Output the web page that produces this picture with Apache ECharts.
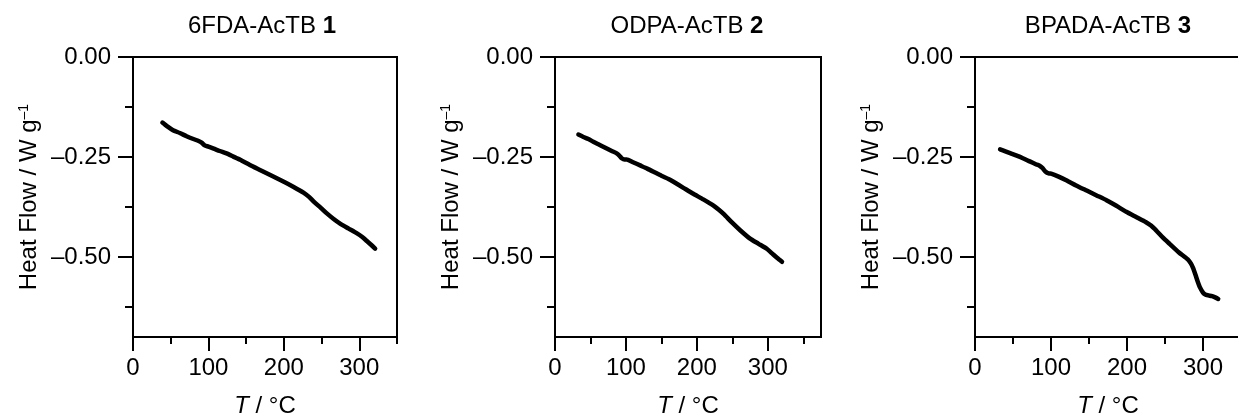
<!DOCTYPE html>
<html>
<head>
<meta charset="utf-8">
<script src="https://cdn.jsdelivr.net/npm/echarts@6/dist/echarts.min.js"></script>
<style>
html,body{margin:0;padding:0;background:#fff;}
#chart{width:1238px;height:419px;}
</style>
</head>
<body>
<div id="chart"></div>
<script>
// ---- data ----
const titles = ['6FDA-AcTB ', 'ODPA-AcTB ', 'BPADA-AcTB '];
const titleNumbers = ['1', '2', '3'];
const xMaxes = [350, 375, 350];
const yMin = -0.7, yMax = 0;
const xMajorTicks = [0, 100, 200, 300];
const xMinorTicks = [50, 150, 250, 350];
const yMajorTicks = [0, -0.25, -0.5];
const yMinorTicks = [-0.125, -0.375, -0.625];

const T1 = [39, 45, 53, 62, 71, 80, 87, 91, 95, 100, 107, 115, 124, 133, 142, 155, 169, 184, 200, 213, 226, 233, 240, 249, 257, 266, 275, 286, 297, 304, 310, 316, 321];
const V1 = [-0.164, -0.173, -0.183, -0.190, -0.198, -0.205, -0.210, -0.214, -0.221, -0.224, -0.229, -0.235, -0.241, -0.249, -0.257, -0.270, -0.283, -0.297, -0.312, -0.325, -0.339, -0.349, -0.362, -0.377, -0.391, -0.405, -0.417, -0.429, -0.441, -0.450, -0.460, -0.470, -0.479];

const T2 = [33, 40, 47, 54, 63, 73, 80, 87, 91, 94, 98, 101, 110, 120, 130, 139, 150, 160, 167, 181, 195, 209, 223, 231, 238, 249, 261, 275, 287, 299, 306, 313, 320];
const V2 = [-0.194, -0.200, -0.205, -0.212, -0.220, -0.229, -0.235, -0.241, -0.247, -0.253, -0.256, -0.256, -0.263, -0.271, -0.279, -0.287, -0.297, -0.305, -0.312, -0.327, -0.342, -0.356, -0.371, -0.382, -0.393, -0.413, -0.433, -0.454, -0.467, -0.480, -0.491, -0.502, -0.512];

const T3 = [33, 40, 47, 54, 63, 72, 80, 85, 89, 93, 97, 101, 110, 120, 133, 147, 160, 173, 186, 199, 212, 225, 232, 239, 247, 256, 268, 280, 284, 287, 290, 293, 296, 300, 303, 307, 312, 316, 320];
const V3 = [-0.231, -0.236, -0.241, -0.246, -0.253, -0.261, -0.268, -0.272, -0.278, -0.287, -0.291, -0.292, -0.299, -0.308, -0.321, -0.334, -0.346, -0.358, -0.372, -0.387, -0.400, -0.413, -0.422, -0.435, -0.451, -0.467, -0.488, -0.506, -0.516, -0.528, -0.544, -0.561, -0.576, -0.589, -0.594, -0.596, -0.598, -0.601, -0.605];

const Ts = [T1, T2, T3];
const Vs = [V1, V2, V3];

// ---- layout ----
const FONT = "'Liberation Sans', Arial, Helvetica, sans-serif";
const grids = [
  {left: 133, top: 57, width: 264, height: 280},
  {left: 555, top: 57, width: 266, height: 280},
  {left: 975, top: 57, width: 266, height: 280}
];
const titleCenters = [257, 682, 1103];

const option = {
  animation: false,
  backgroundColor: '#fff',
  textStyle: {fontFamily: FONT, color: '#000'},
  title: [], grid: [], xAxis: [], yAxis: [], series: []
};

const fmtY = v => (v < 0 ? '\u2013' : '') + Math.abs(v).toFixed(2);

for (let i = 0; i < 3; i++) {
  const g = grids[i];
  option.grid.push({
    left: g.left, top: g.top, width: g.width, height: g.height,
    containLabel: false, outerBoundsMode: 'none',
    show: true, borderColor: '#000', borderWidth: 2, backgroundColor: 'transparent'
  });
  option.title.push({
    text: titles[i] + '{b|' + titleNumbers[i] + '}',
    left: titleCenters[i],
    textAlign: 'center',
    top: 9,
    textStyle: {
      fontFamily: FONT, fontSize: 24, fontWeight: 'normal', color: '#000',
      rich: {b: {fontFamily: FONT, fontSize: 24, fontWeight: 'bold', color: '#000'}}
    }
  });
  // major x axis
  option.xAxis.push({
    type: 'value', gridIndex: i, min: 0, max: xMaxes[i], position: 'bottom',
    name: '{i|T} / °C', nameLocation: 'middle', nameGap: 57,
    nameTextStyle: {fontFamily: FONT, fontSize: 24, color: '#000',
      rich: {i: {fontFamily: FONT, fontSize: 24, fontStyle: 'italic', color: '#000'}}},
    axisLine: {show: true, onZero: false, lineStyle: {color: '#000', width: 2}},
    axisTick: {show: true, length: 14, lineStyle: {color: '#000', width: 2}, customValues: xMajorTicks},
    axisLabel: {show: true, margin: 19, fontFamily: FONT, fontSize: 24, color: '#000', customValues: xMajorTicks},
    splitLine: {show: false}
  });
  // minor x axis
  option.xAxis.push({
    type: 'value', gridIndex: i, min: 0, max: xMaxes[i], position: 'bottom',
    axisLine: {show: false, onZero: false},
    axisTick: {show: true, length: 7, lineStyle: {color: '#000', width: 2}, customValues: xMinorTicks},
    axisLabel: {show: false},
    splitLine: {show: false}
  });
  // major y axis
  option.yAxis.push({
    type: 'value', gridIndex: i, min: yMin, max: yMax, position: 'left',
    name: '{a|Heat Flow / W g}{s|\u20131}', nameLocation: 'middle', nameGap: 92,
    nameTextStyle: {fontFamily: FONT, fontSize: 24, color: '#000',
      rich: {
        a: {fontFamily: FONT, fontSize: 24, color: '#000'},
        s: {fontFamily: FONT, fontSize: 14, color: '#000', verticalAlign: 'top', padding: [0, 0, 8, 0]}
      }},
    axisLine: {show: true, onZero: false, lineStyle: {color: '#000', width: 2}},
    axisTick: {show: true, length: 15, lineStyle: {color: '#000', width: 2}, customValues: yMajorTicks},
    axisLabel: {show: true, margin: 22, fontFamily: FONT, fontSize: 24, color: '#000', customValues: yMajorTicks, formatter: fmtY},
    splitLine: {show: false}
  });
  // minor y axis
  option.yAxis.push({
    type: 'value', gridIndex: i, min: yMin, max: yMax, position: 'left',
    axisLine: {show: false, onZero: false},
    axisTick: {show: true, length: 8, lineStyle: {color: '#000', width: 2}, customValues: yMinorTicks},
    axisLabel: {show: false},
    splitLine: {show: false}
  });
  option.series.push({
    type: 'line',
    xAxisIndex: 2 * i, yAxisIndex: 2 * i,
    data: Ts[i].map((t, k) => [t, Vs[i][k]]),
    showSymbol: false, smooth: 0.2,
    lineStyle: {color: '#000', width: 4.5, cap: 'round', join: 'round'},
    silent: true
  });
}

const chart = echarts.init(document.getElementById('chart'), null, {renderer: 'canvas'});
chart.setOption(option);
</script>
</body>
</html>
